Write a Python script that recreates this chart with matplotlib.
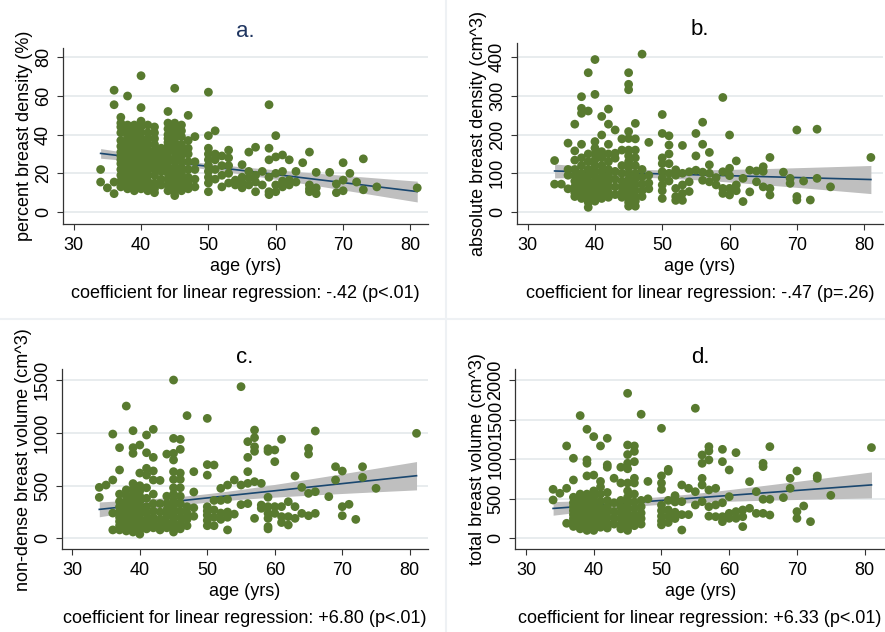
import numpy as np
import matplotlib.pyplot as plt

# Breast density / volume vs age, four panels with linear fit and 95% CI

plt.rcParams['font.family'] = ['Liberation Sans', 'DejaVu Sans']

# ---- data: age -> list of measured values -------------------------------
pct_density = {
    34: [22, 15.5], 35: [12.5], 36: [63, 55.5, 15.5, 9.5],
    37: [49, 46, 44, 41, 37, 34, 31, 29, 27, 25, 22, 19, 16, 13],
    38: [60, 45, 42, 39, 36, 33, 31, 29, 27, 25, 23, 21, 19, 17, 14, 12],
    39: [45, 43, 40, 37, 35, 33, 31, 29, 27, 25, 23, 21, 19, 16, 14, 12, 11],
    40: [70.5, 54, 47, 44, 41, 38, 36, 34, 32, 30, 28, 26, 24, 22, 20, 18, 16, 14, 12],
    41: [45, 41, 38, 35, 32, 29, 27, 24, 22, 19, 16, 13, 11],
    42: [44, 41, 38, 35, 32, 30, 28, 25, 22, 19, 15, 12, 10],
    43: [33, 30, 27, 24, 21, 17, 14],
    44: [52, 46, 43, 40, 38, 36, 34, 31, 28, 26, 23, 20, 17, 14, 11],
    45: [64, 46, 44, 42, 40, 38, 36, 33, 31, 28, 26, 23, 21, 18, 16, 13, 11, 8.5],
    46: [45, 42, 39, 35, 32, 29, 26, 23, 20, 17, 15, 13, 11],
    47: [50, 37, 33, 30, 26, 22, 18, 15, 12],
    48: [39, 26, 22, 17, 13],
    50: [62, 39.5, 33, 30, 27, 24, 21, 18, 15, 10.5],
    51: [42, 30, 27, 22, 17], 52: [29, 24, 19, 13], 53: [32, 28, 24, 20, 15],
    54: [16.5, 14], 55: [24.5, 18, 15, 12.5], 56: [31, 21, 17.5, 14],
    57: [33.5, 19, 15.5, 10.5], 58: [21, 14], 59: [55.5, 33, 27, 18, 10.5, 9],
    60: [39.5, 28.5, 20, 14, 10.5], 61: [29.5, 21, 16, 13], 62: [27, 16.5, 14],
    63: [21, 15.5], 64: [25.5], 65: [31, 14, 12, 10.5], 66: [20.5, 12.5, 9.5],
    68: [20.5], 69: [14.5, 10], 70: [25.5, 16.5, 11], 71: [20], 72: [15.5],
    73: [27.5, 11.5], 75: [13], 81: [12.5],
}

abs_density = {
    34: [133, 72], 35: [72], 36: [178, 110, 95, 60],
    37: [227, 158, 134, 110, 95, 80, 65, 50, 40],
    38: [298, 268, 255, 175, 140, 120, 100, 85, 70, 58, 45, 35],
    39: [360, 261, 150, 130, 110, 95, 80, 68, 55, 45, 35, 25, 12],
    40: [394, 304, 182, 165, 150, 135, 120, 105, 92, 80, 70, 60, 50, 40, 28],
    41: [247, 199, 156, 140, 120, 105, 90, 78, 65, 55, 45, 35],
    42: [266, 227, 175, 150, 130, 110, 95, 80, 65, 50, 38],
    43: [212, 152, 139, 105, 85, 65, 45],
    44: [189, 160, 120, 100, 80, 65, 50, 38],
    45: [360, 330, 316, 208, 190, 160, 145, 130, 115, 100, 85, 72, 60, 48, 36, 25, 15],
    46: [229, 189, 160, 140, 120, 100, 85, 70, 55, 40, 28, 15],
    47: [408, 110, 90, 72, 55, 40], 48: [180, 95, 75, 60],
    50: [252, 203, 140, 125, 104, 88, 70, 55, 35],
    51: [197, 173, 150, 125, 100, 80], 52: [109, 95, 61, 40, 30],
    53: [172, 100, 70, 48, 30], 54: [104, 78, 53], 55: [203, 145, 108],
    56: [232, 175, 103, 82], 57: [154, 122, 100, 78], 58: [89, 70],
    59: [296, 104, 61, 48], 60: [199, 113, 94, 61, 44], 61: [132, 70, 55],
    62: [87, 27], 63: [108, 52], 64: [106, 78], 65: [117, 105, 65],
    66: [141, 61, 44], 68: [103], 69: [87, 74], 70: [212, 40, 31], 71: [80],
    72: [31], 73: [214, 87], 75: [65], 81: [141],
}

nondense_vol = {
    34: [484, 389], 35: [506], 36: [990, 554, 240, 80],
    37: [861, 649, 420, 350, 300, 250, 200, 160, 120, 80],
    38: [1256, 460, 400, 350, 300, 260, 220, 180, 140, 100, 70],
    39: [1022, 861, 807, 520, 470, 420, 370, 330, 290, 250, 210, 170, 130, 90, 60],
    40: [886, 620, 500, 450, 400, 350, 310, 270, 230, 190, 150, 110, 80, 40],
    41: [981, 813, 665, 600, 480, 380, 300, 240, 180, 130, 90],
    42: [1035, 769, 640, 554, 420, 330, 260, 200, 150, 100],
    43: [550, 330, 250, 180, 120, 80],
    44: [800, 400, 330, 270, 210, 150, 100],
    45: [1503, 949, 807, 744, 633, 560, 480, 420, 360, 300, 250, 200, 150, 100, 60],
    46: [940, 845, 620, 560, 480, 400, 330, 260, 200, 140, 90],
    47: [1165, 300, 240, 180, 120], 48: [633, 440, 290, 210],
    50: [1139, 700, 600, 300, 260, 220, 170, 120],
    51: [696, 360, 270, 200, 120], 52: [475, 360, 240, 180],
    53: [506, 370, 250, 200, 80], 54: [554, 230], 55: [1440, 506, 320],
    56: [918, 769, 633, 522, 330], 57: [1028, 956, 870, 826, 538, 190],
    58: [522, 316, 285], 59: [851, 826, 390, 301, 237, 190, 111, 90],
    60: [839, 728, 301, 237], 61: [940, 301, 206, 150], 62: [348, 206, 127],
    63: [592, 301, 190], 64: [484, 237], 65: [855, 800, 427, 215],
    66: [1019, 443, 237], 68: [396], 69: [680, 554], 70: [639, 301, 215],
    71: [323], 72: [180], 73: [680, 579], 75: [475], 81: [997],
}

total_vol = {
    34: [620, 485], 35: [570], 36: [1169, 633, 190],
    37: [1013, 738, 520, 450, 400, 350, 300, 250, 200, 150],
    38: [1553, 560, 500, 440, 380, 320, 270, 220, 170, 120],
    39: [1380, 992, 950, 790, 560, 500, 450, 400, 350, 300, 250, 200, 150, 100],
    40: [1287, 800, 600, 520, 460, 400, 340, 290, 240, 190, 140, 100],
    41: [1169, 720, 650, 560, 470, 390, 320, 260, 200, 140],
    42: [1266, 930, 900, 580, 480, 400, 330, 260, 190, 130],
    43: [760, 450, 340, 260, 180],
    44: [900, 700, 480, 400, 320, 250, 180, 120],
    45: [1835, 1181, 1060, 950, 880, 700, 600, 520, 450, 380, 320, 260, 200, 140, 100],
    46: [1169, 1100, 970, 760, 700, 560, 460, 380, 300, 230, 160],
    47: [1570, 480, 400, 320, 250, 180], 48: [720, 500],
    50: [1392, 790, 700, 620, 420, 350, 280, 220, 170],
    51: [873, 850, 480, 360, 280, 200], 52: [540, 500, 460, 330, 250],
    53: [675, 464, 300, 105], 54: [633, 300], 55: [1646, 590, 422],
    56: [1055, 949, 759, 675, 464], 57: [1160, 1105, 992, 612, 400, 280],
    58: [633, 422, 274], 59: [1126, 970, 450, 274, 211], 60: [865, 527, 316, 253],
    61: [1084, 338, 253], 62: [359, 274, 148], 63: [717, 380], 64: [590, 316],
    65: [949, 907, 494, 316], 66: [1160, 494, 295], 68: [515], 69: [759, 633],
    70: [852, 338, 253], 71: [409], 72: [211], 73: [789, 759], 75: [544],
    81: [1148],
}

# regression slopes (as reported) and intercepts of the fitted lines
slopes = [-0.42, -0.47, 6.80, 6.33]
intercepts = [44.6, 122.0, 43.8, 163.0]
captions = [
    'coefficient for linear regression: -.42 (p<.01)',
    'coefficient for linear regression: -.47 (p=.26)',
    'coefficient for linear regression: +6.80 (p<.01)',
    'coefficient for linear regression: +6.33 (p<.01)',
]
ylabels = ['percent breast density (%)', 'absolute breast density (cm^3)',
           'non-dense breast volume (cm^3)', 'total breast volume (cm^3)']
titles = ['a.', 'b.', 'c.', 'd.']
yticks = [[0, 20, 40, 60, 80], [0, 100, 200, 300, 400],
          [0, 500, 1000, 1500], [0, 500, 1000, 1500, 2000]]
xticks = [30, 40, 50, 60, 70, 80]

# ---- layout (pixels on a 885x632 canvas) ---------------------------------
W, H = 885, 632
# left, top, right, bottom of each plot region
boxes = [(62.7, 47.7, 428, 224), (516.7, 43.3, 883, 224),
         (61.7, 369.3, 428, 549.3), (515.3, 369.3, 885, 549.3)]
xlims = [(28.37, 82.6), (28.37, 82.8), (28.43, 82.7), (28.42, 83.0)]
ylims = [(-6.2, 85.0), (-31, 436), (-104, 1605), (-139, 2139)]
title_y = [36.7, 35.0, 362.7, 362.7]
title_colors = ['#1f3560', 'black', 'black', 'black']

DOT = '#587a2f'
FIT = '#1a476f'
BAND = '#bfbfbf'
GRID = '#e6eaed'


def flatten(d):
    ages = np.array([a for a, vals in d.items() for _ in vals], dtype=float)
    vals = np.array([v for vs in d.values() for v in vs], dtype=float)
    return ages, vals


def ci_band(x, y, slope, intercept, xs, t=1.97):
    """95% confidence band for the mean of a straight-line fit."""
    resid = y - (intercept + slope * x)
    n = len(x)
    s = np.sqrt(np.sum(resid ** 2) / (n - 2))
    sxx = np.sum((x - x.mean()) ** 2)
    se = s * np.sqrt(1.0 / n + (xs - x.mean()) ** 2 / sxx)
    return t * se


fig = plt.figure(figsize=(W / 100, H / 100), dpi=100)
fig.patch.set_facecolor('white')

# faint panel separators
fig.add_artist(plt.Line2D([446 / W, 446 / W], [0, 1], color='#eef1f4', lw=1.5))
fig.add_artist(plt.Line2D([0, 1], [1 - 319 / H, 1 - 319 / H], color='#eef1f4', lw=1.5))

datasets = [pct_density, abs_density, nondense_vol, total_vol]

for i, data in enumerate(datasets):
    l, t, r, b = boxes[i]
    ax = fig.add_axes([l / W, 1 - b / H, (r - l) / W, (b - t) / H])
    x, y = flatten(data)

    xs = np.linspace(x.min(), x.max(), 100)
    fit = intercepts[i] + slopes[i] * xs
    half = ci_band(x, y, slopes[i], intercepts[i], xs)

    for yt in yticks[i]:
        ax.axhline(yt, color=GRID, lw=1.3, zorder=0)
    ax.fill_between(xs, fit - half, fit + half, color=BAND, lw=0, zorder=1)
    ax.plot(xs, fit, color=FIT, lw=1.2, zorder=2)
    ax.scatter(x, y, s=40, color=DOT, edgecolors='none', zorder=3)

    ax.set_xlim(*xlims[i])
    ax.set_ylim(*ylims[i])
    ax.set_xticks(xticks)
    ax.set_yticks(yticks[i])
    ax.set_yticklabels([str(v) for v in yticks[i]], rotation=90, va='center')

    for side in ['top', 'right']:
        ax.spines[side].set_visible(False)
    for side in ['left', 'bottom']:
        ax.spines[side].set_color('#333333')
        ax.spines[side].set_linewidth(0.9)
    ax.tick_params(axis='x', length=4.3, width=0.8, pad=5.0, labelsize=13,
                   color='#333333')
    ax.tick_params(axis='y', length=4.3, width=0.8, pad=3.5, labelsize=13,
                   color='#333333')

    cx = (l + r) / 2
    fig.text(cx / W, 1 - title_y[i] / H, titles[i], ha='center', va='baseline',
             fontsize=16, color=title_colors[i])
    fig.text(cx / W, 1 - (b + 46.7) / H, 'age (yrs)', ha='center',
             va='baseline', fontsize=13)
    fig.text(cx / W, 1 - (b + 73.7) / H, captions[i], ha='center',
             va='baseline', fontsize=13)
    fig.text((l - 38) / W, 1 - ((t + b) / 2) / H, ylabels[i], rotation=90,
             ha='center', va='center', fontsize=13)

fig.savefig('out.png', dpi=100)
